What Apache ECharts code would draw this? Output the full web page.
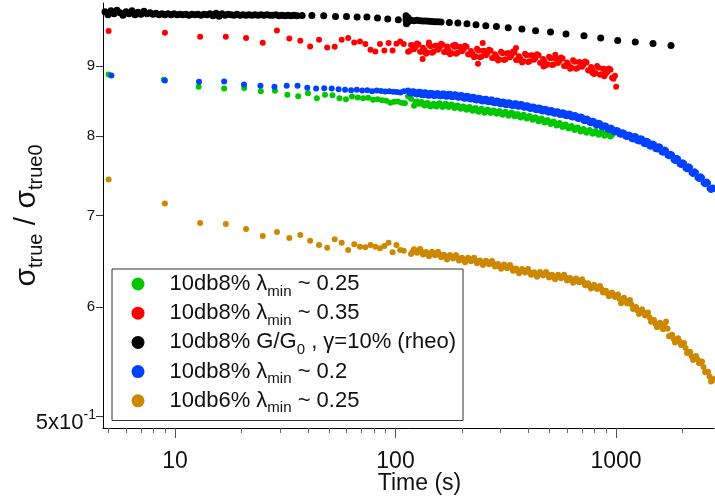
<!DOCTYPE html>
<html>
<head>
<meta charset="utf-8">
<script src="https://cdn.jsdelivr.net/npm/echarts@6/dist/echarts.min.js"></script>
<style>
html,body{margin:0;padding:0;background:#fff;}
#chart{width:715px;height:501px;}
</style>
</head>
<body>
<div id="chart"></div>
<script>
// ---------- data (time in s, value = sigma_true / sigma_true0) ----------
const X_MIN = 4.715, X_MAX = 2782;
const Y_MIN = 0.49, Y_MAX = 1.0;
const X_MAJOR = [10, 100, 1000];
const X_MINOR = [5, 6, 7, 8, 9, 20, 30, 40, 50, 60, 70, 80, 90, 200, 300, 400, 500, 600, 700, 800, 900, 2000];
const Y_TICKS = [0.5, 0.6, 0.7, 0.8, 0.9];

const seriesNames = [
  '10db8% λmin ~ 0.25',
  '10db8% λmin ~ 0.35',
  '10db8% G/G0 , γ=10% (rheo)',
  '10db8% λmin ~ 0.2',
  '10db6% λmin ~ 0.25'
];
const legendParts = [
  ['10db8% λ', 'min', ' ~ 0.25'],
  ['10db8% λ', 'min', ' ~ 0.35'],
  ['10db8% G/G', '0', ' , γ=10% (rheo)'],
  ['10db8% λ', 'min', ' ~ 0.2'],
  ['10db6% λ', 'min', ' ~ 0.25']
];
const seriesColors = ['#00c800', '#ff0000', '#000000', '#0040ff', '#cc8800'];

const greenData = [
[5.0,0.8869],[8.9,0.8791],[12.8,0.8688],[16.7,0.8663],[20.6,0.8669],[24.5,0.8625],[28.4,0.8630],[32.3,0.8572],[36.2,0.8550],[40.1,0.8593],
[44.0,0.8524],[47.9,0.8572],[51.8,0.8565],[55.7,0.8524],[59.6,0.8510],[63.5,0.8547],[67.4,0.8533],[71.3,0.8521],[75.2,0.8529],[79.1,0.8500],
[83.0,0.8507],[86.9,0.8493],[90.8,0.8486],[94.7,0.8457],[98.6,0.8472],[102.5,0.8476],[106.4,0.8457],[110.3,0.8450],
[114.0,0.8550],[117.6,0.8514],[121.3,0.8415],[125.2,0.8476],[129.2,0.8457],[133.3,0.8436],[137.5,0.8443],[141.9,0.8422],[146.4,0.8429],[151.1,0.8415],
[155.9,0.8436],[160.9,0.8422],[166.0,0.8415],[171.3,0.8429],[176.7,0.8408],[182.3,0.8415],[188.1,0.8394],[194.1,0.8401],[200.3,0.8386],[206.7,0.8379],
[213.3,0.8386],[220.1,0.8365],[227.1,0.8372],[234.3,0.8351],[241.7,0.8358],[249.4,0.8344],[257.4,0.8337],[265.6,0.8344],[274.0,0.8330],[282.7,0.8323],
[291.7,0.8330],[301.0,0.8309],[310.6,0.8316],[320.5,0.8302],[330.7,0.8295],[341.2,0.8302],[352.1,0.8281],[363.3,0.8274],[374.9,0.8274],[386.8,0.8261],
[399.1,0.8254],[411.8,0.8247],[424.9,0.8240],[438.5,0.8226],[452.4,0.8219],[466.8,0.8212],[481.7,0.8198],[497.0,0.8191],[512.8,0.8178],[529.1,0.8171],
[546.0,0.8157],[563.4,0.8150],[581.3,0.8137],[599.8,0.8130],[618.9,0.8116],[638.6,0.8109],[658.9,0.8096],[679.9,0.8089],[701.5,0.8075],[723.9,0.8068],
[746.9,0.8062],[770.7,0.8055],[795.2,0.8048],[820.5,0.8041],[846.1,0.8035],[873.0,0.8028],[900.8,0.8021],[929.5,0.8014],[959.1,0.8014]
];
const greenDense = [
[123.2,0.8468],[127.2,0.8445],[131.2,0.8469],[135.4,0.8418],[139.7,0.8455],[144.1,0.8404],[148.7,0.8444],[153.5,0.8404],[158.4,0.8451],[163.4,0.8397],
[168.6,0.8444],[174.0,0.8397],[179.5,0.8434],[185.2,0.8383],[191.1,0.8420],[197.2,0.8372],[203.5,0.8405],[210.0,0.8361],[216.7,0.8398],[223.6,0.8347],
[230.7,0.8384],[238.0,0.8333],[245.5,0.8373],[253.3,0.8319],[261.5,0.8363],[269.8,0.8315],[278.3,0.8349],[287.2,0.8305],[296.3,0.8342],[305.8,0.8291],
[315.5,0.8331],[325.6,0.8277],[335.9,0.8321],[346.6,0.8270],[357.7,0.8300],[369.0,0.8252],[380.8,0.8290],[392.9,0.8236],[405.4,0.8273],[418.3,0.8222],
[431.6,0.8255],[445.4,0.8201],[459.5,0.8238],[474.2,0.8183],[489.3,0.8217],[504.8,0.8163],[520.9,0.8197],[537.5,0.8142],[554.6,0.8176],[572.3,0.8122],
[590.5,0.8156],[609.3,0.8101],[628.7,0.8135],[648.7,0.8081],[669.3,0.8115],[690.6,0.8060],[712.6,0.8094],[735.3,0.8043],[758.7,0.8081],[782.9,0.8030],
[807.7,0.8067],[833.4,0.8016],[859.5,0.8054],[886.8,0.8003],[915.0,0.8040],[944.2,0.7992]
];

const redData = [
[5,0.9540],[9,0.9513],[13,0.9449],[17,0.9449],[21,0.9428],[25,0.9354],[29,0.9550],[33,0.9422],[37,0.9386],[41,0.9296],
[45,0.9402],[49,0.9281],[53,0.9292],[57,0.9402],[61,0.9428],[65,0.9359],[69,0.9375],[73,0.9334],[77,0.9245],[81,0.9219],
[85,0.9334],[89,0.9234],[93,0.9350],[97,0.9234],[101,0.9339],[105,0.9375],[109,0.9334],
[114.0,0.9214],[117.6,0.9318],[121.3,0.9253],[125.2,0.9342],[129.2,0.9214],[133.3,0.9276],[137.5,0.9183],[141.9,0.9323],[146.4,0.9199],[151.1,0.9307],
[155.9,0.9245],[160.9,0.9339],[166.0,0.9211],[171.3,0.9270],[176.7,0.9175],[182.3,0.9312],[188.1,0.9185],[194.1,0.9292],[200.3,0.9222],[206.7,0.9307],
[213.3,0.9174],[220.1,0.9226],[227.1,0.9128],[234.3,0.9261],[241.7,0.9129],[249.4,0.9230],[257.4,0.9162],[265.6,0.9246],[274.0,0.9119],[282.7,0.9175],
[291.7,0.9079],[301.0,0.9214],[310.6,0.9088],[320.5,0.9192],[330.7,0.9129],[341.2,0.9217],[352.1,0.9089],[363.3,0.9146],[374.9,0.9050],[386.8,0.9183],
[399.1,0.9056],[411.8,0.9159],[424.9,0.9091],[438.5,0.9175],[452.4,0.9045],[466.8,0.9102],[481.7,0.9006],[497.0,0.9139],[512.8,0.9010],[529.1,0.9109],
[546.0,0.9042],[563.4,0.9126],[581.3,0.8998],[599.8,0.9051],[618.9,0.8955],[638.6,0.9083],[658.9,0.8956],[679.9,0.9056],[701.5,0.8986],[723.9,0.9065],
[746.9,0.8932],[770.7,0.8980],[795.2,0.8877],[820.5,0.8998],[846.1,0.8865],[873.0,0.8956],[900.8,0.8883],[929.5,0.8959],[959.1,0.8820],[989.6,0.8850],
[132.7,0.9102],[141.7,0.9359],[236.7,0.9030],[248.6,0.9350],[351.9,0.9271],[469.1,0.8989],[530.5,0.9168],[783.2,0.8893],[885.0,0.8842],[1001,0.8688],
[171.7,0.9296],[186.6,0.9323]
];
const redDense = [
[115.8,0.9226],[119.5,0.9316],[123.2,0.9288],[127.2,0.9328],[131.2,0.9215],[135.4,0.9240],[139.7,0.9203],[144.1,0.9301],[148.7,0.9213],[153.5,0.9306],
[158.4,0.9282],[163.4,0.9325],[168.6,0.9211],[174.0,0.9233],[179.5,0.9194],[185.2,0.9289],[191.1,0.9199],[197.2,0.9287],[203.5,0.9255],[210.0,0.9291],
[216.7,0.9170],[223.6,0.9187],[230.7,0.9145],[238.0,0.9235],[245.5,0.9140],[253.3,0.9226],[261.5,0.9194],[269.8,0.9233],[278.3,0.9117],[287.2,0.9137],
[296.3,0.9097],[305.8,0.9191],[315.5,0.9100],[325.6,0.9191],[335.9,0.9163],[346.6,0.9203],[357.7,0.9088],[369.0,0.9108],[380.8,0.9067],[392.9,0.9160],
[405.4,0.9068],[418.3,0.9155],[431.6,0.9123],[445.4,0.9160],[459.5,0.9044],[474.2,0.9064],[489.3,0.9023],[504.8,0.9115],[520.9,0.9020],[537.5,0.9106],
[554.6,0.9074],[572.3,0.9112],[590.5,0.8995],[609.3,0.9013],[628.7,0.8969],[648.7,0.9060],[669.3,0.8966],[690.6,0.9051],[712.6,0.9016],[735.3,0.9049],
[758.7,0.8926],[782.9,0.8939],[807.7,0.8888],[833.4,0.8972],[859.5,0.8871],[886.8,0.8950],[915.0,0.8911],[944.2,0.8940],[974.2,0.8805]
];

const blackData = [
[4.815,0.9854],[4.968,0.9805],[5.126,0.9871],[5.289,0.9821],[5.458,0.9879],[5.631,0.9838],[5.810,0.9797],[5.995,0.9854],[6.186,0.9821],[6.383,0.9871],
[6.586,0.9805],[6.796,0.9846],[7.012,0.9813],[7.235,0.9863],[7.465,0.9821],[7.703,0.9838],[7.948,0.9813],[8.201,0.9830],[8.462,0.9805],[8.731,0.9821],
[9.009,0.9805],[9.296,0.9821],[9.591,0.9805],[9.897,0.9821],[10.21,0.9805],[10.54,0.9813],[10.87,0.9805],[11.22,0.9813],[11.58,0.9797],[11.94,0.9813],
[12.32,0.9805],[12.72,0.9813],[13.12,0.9797],[13.54,0.9813],[13.97,0.9805],[14.41,0.9821],[14.87,0.9788],[15.35,0.9830],[15.83,0.9780],[16.34,0.9821],
[16.86,0.9797],[17.39,0.9813],[17.95,0.9805],[18.52,0.9797],[19.11,0.9813],[19.72,0.9797],[20.34,0.9805],[20.99,0.9797],[21.66,0.9805],[22.35,0.9797],
[23.06,0.9805],[23.79,0.9797],[24.55,0.9805],[25.33,0.9797],[26.14,0.9805],[26.97,0.9797],[27.83,0.9797],[28.71,0.9805],[29.63,0.9788],[30.57,0.9797],
[31.54,0.9788],[32.55,0.9797],[33.58,0.9788],[34.65,0.9797],[35.75,0.9788],
[37.71,0.9793],[41.77,0.9793],[47.25,0.9788],[53.44,0.9777],[59.95,0.9777],[66.96,0.9767],[74.18,0.9767],[82.86,0.9750],[92.17,0.9734],[102.96,0.9723],
[111.6,0.9788],[111.6,0.9723],[112.2,0.9658],[114.0,0.9756],[114.0,0.9690],[117.6,0.9715],[121.3,0.9707],[125.2,0.9715],[129.2,0.9707],[133.3,0.9703],
[137.5,0.9702],[141.9,0.9698],[146.4,0.9695],[151.1,0.9690],[155.9,0.9690],[160.9,0.9685],
[175.4,0.9679],[191.8,0.9670],[210.9,0.9658],[231.8,0.9642],[256.7,0.9625],[286.8,0.9614],[324.4,0.9593],[374.3,0.9572],[431.8,0.9545],[504.6,0.9524],
[593.1,0.9492],[715.7,0.9465],[852.2,0.9428],[1017.8,0.9391],[1223.0,0.9366],[1471.6,0.9343],[1776.0,0.9312]
];

const blueData = [
[5.15,0.8854],[9.0,0.8780],[12.85,0.8761],[16.7,0.8765],[20.55,0.8721],[24.4,0.8702],[28.25,0.8688],[32.1,0.8702],[35.95,0.8702],[39.8,0.8673],
[43.65,0.8663],[47.5,0.8666],[51.35,0.8663],[55.2,0.8651],[59.05,0.8644],[62.9,0.8637],[66.75,0.8644],[70.6,0.8634],[74.45,0.8637],[78.3,0.8625],
[82.15,0.8634],[86.0,0.8627],[89.85,0.8620],[93.7,0.8622],[97.55,0.8615],[101.4,0.8611],[105.25,0.8605],[109.1,0.8622],
[114.0,0.8635],[117.6,0.8592],[121.3,0.8621],[125.2,0.8578],[129.2,0.8615],[133.3,0.8567],[137.5,0.8606],[141.9,0.8559],[146.4,0.8598],[151.1,0.8553],
[155.9,0.8595],[160.9,0.8550],[166.0,0.8591],[171.3,0.8544],[176.7,0.8586],[182.3,0.8539],[188.1,0.8578],[194.1,0.8530],[200.3,0.8567],[206.7,0.8517],
[213.3,0.8554],[220.1,0.8504],[227.1,0.8540],[234.3,0.8490],[241.7,0.8526],[249.4,0.8477],[257.4,0.8514],[265.6,0.8466],[274.0,0.8503],[282.7,0.8452],
[291.7,0.8487],[301.0,0.8437],[310.6,0.8474],[320.5,0.8425],[330.7,0.8460],[341.2,0.8412],[352.1,0.8450],[363.3,0.8402],[374.9,0.8437],[386.8,0.8386],
[399.1,0.8420],[411.8,0.8370],[424.9,0.8403],[438.5,0.8353],[452.4,0.8386],[466.8,0.8336],[481.7,0.8370],[497.0,0.8319],[512.8,0.8353],[529.1,0.8302],
[546.0,0.8336],[563.4,0.8286],[581.3,0.8319],[599.8,0.8269],[618.9,0.8302],[638.6,0.8251],[658.9,0.8281],[679.9,0.8230],[701.5,0.8258],[723.9,0.8201],
[746.9,0.8229],[770.7,0.8172],[795.2,0.8200],[820.5,0.8143],[846.1,0.8171],[873.0,0.8113],[900.8,0.8138],[929.5,0.8081],[959.1,0.8105],[989.6,0.8048],
[1021,0.8073],[1054,0.8016],[1087,0.8043],[1122,0.7987],[1157,0.8014],[1194,0.7953],[1232,0.7993],[1272,0.7925],[1312,0.7962],[1354,0.7890],
[1397,0.7926],[1441,0.7855],[1487,0.7890],[1535,0.7819],[1583,0.7855],[1634,0.7778],[1686,0.7807],[1739,0.7731],[1795,0.7752],[1852,0.7672],
[1911,0.7698],[1972,0.7618],[2035,0.7642],[2099,0.7564],[2166,0.7589],[2235,0.7506],[2306,0.7524],[2380,0.7442],[2455,0.7461],[2534,0.7376],
[2614,0.7393],[2697,0.7307],[2783,0.7319]
];
const blueDense = [
[115.8,0.8593],[119.5,0.8625],[123.2,0.8582],[127.2,0.8617],[131.2,0.8570],[135.4,0.8608],[139.7,0.8561],[144.1,0.8600],[148.7,0.8555],[153.5,0.8596],
[158.4,0.8551],[163.4,0.8592],[168.6,0.8546],[174.0,0.8587],[179.5,0.8540],[185.2,0.8580],[191.1,0.8532],[197.2,0.8570],[203.5,0.8520],[210.0,0.8557],
[216.7,0.8507],[223.6,0.8544],[230.7,0.8494],[238.0,0.8530],[245.5,0.8480],[253.3,0.8517],[261.5,0.8469],[269.8,0.8506],[278.3,0.8456],[287.2,0.8491],
[296.3,0.8441],[305.8,0.8477],[315.5,0.8428],[325.6,0.8464],[335.9,0.8415],[346.6,0.8453],[357.7,0.8405],[369.0,0.8440],[380.8,0.8390],[392.9,0.8424],
[405.4,0.8374],[418.3,0.8407],[431.6,0.8357],[445.4,0.8390],[459.5,0.8340],[474.2,0.8374],[489.3,0.8323],[504.8,0.8357],[520.9,0.8306],[537.5,0.8340],
[554.6,0.8290],[572.3,0.8323],[590.5,0.8273],[609.3,0.8306],[628.7,0.8255],[648.7,0.8286],[669.3,0.8235],[690.6,0.8264],[712.6,0.8208],[735.3,0.8236],
[758.7,0.8179],[782.9,0.8207],[807.7,0.8150],[833.4,0.8178],[859.5,0.8121],[886.8,0.8146],[915.0,0.8089],[944.2,0.8113],[974.2,0.8056],[1005,0.8081],
[1037,0.8024],[1071,0.8051],[1104,0.7994],[1140,0.8021],[1175,0.7962],[1213,0.7998],[1251,0.7932],[1292,0.7970],[1333,0.7899],[1375,0.7935],
[1419,0.7864],[1464,0.7899],[1510,0.7828],[1559,0.7864],[1608,0.7788],[1660,0.7819],[1713,0.7743],[1766,0.7766],[1823,0.7687],[1881,0.7712],
[1941,0.7632],[2003,0.7656],[2067,0.7578],[2132,0.7602],[2200,0.7521],[2270,0.7540],[2342,0.7458],[2418,0.7477],[2494,0.7393],[2574,0.7410],
[2655,0.7324],[2740,0.7338]
];

const orangeData = [
[5,0.7437],[9,0.7143],[13,0.6912],[17,0.6901],[21,0.6844],[25,0.6763],[29,0.6809],[33,0.6741],[37,0.6775],[41,0.6710],
[45,0.6662],[49,0.6632],[53,0.6726],[57,0.6688],[61,0.6606],[65,0.6670],[69,0.6643],[73,0.6636],[77,0.6662],[81,0.6643],
[85,0.6626],[89,0.6651],[93,0.6688],[97,0.6581],[101,0.6662],[105,0.6606],[109,0.6598],
[117.6,0.6562],[121.3,0.6614],[125.2,0.6577],[129.2,0.6617],[133.3,0.6556],[137.5,0.6585],[141.9,0.6536],[146.4,0.6586],[151.1,0.6548],[155.9,0.6587],
[160.9,0.6527],[166.0,0.6553],[171.3,0.6503],[176.7,0.6551],[182.3,0.6513],[188.1,0.6552],[194.1,0.6492],[200.3,0.6520],[206.7,0.6471],[213.3,0.6521],
[220.1,0.6483],[227.1,0.6522],[234.3,0.6462],[241.7,0.6491],[249.4,0.6441],[257.4,0.6489],[265.6,0.6449],[274.0,0.6486],[282.7,0.6426],[291.7,0.6452],
[301.0,0.6401],[310.6,0.6447],[320.5,0.6406],[330.7,0.6442],[341.2,0.6379],[352.1,0.6404],[363.3,0.6352],[374.9,0.6400],[386.8,0.6361],[399.1,0.6398],
[411.8,0.6338],[424.9,0.6365],[438.5,0.6317],[452.4,0.6367],[466.8,0.6329],[481.7,0.6368],[497.0,0.6309],[512.8,0.6337],[529.1,0.6289],[546.0,0.6338],
[563.4,0.6300],[581.3,0.6337],[599.8,0.6277],[618.9,0.6303],[638.6,0.6252],[658.9,0.6297],[679.9,0.6257],[701.5,0.6290],[723.9,0.6226],[746.9,0.6247],
[770.7,0.6193],[795.2,0.6233],[820.5,0.6188],[846.1,0.6218],[873.0,0.6152],[900.8,0.6170],[929.5,0.6114],[959.1,0.6151],[989.6,0.6105],[1021,0.6130],
[1054,0.6042],[1087,0.6098],[1122,0.6039],[1157,0.6074],[1194,0.5983],[1232,0.6003],[1272,0.5933],[1312,0.5981],[1354,0.5919],[1397,0.5948],
[1441,0.5856],[1487,0.5873],[1535,0.5802],[1583,0.5848],[1634,0.5783],[1686,0.5858],[1739,0.5716],[1795,0.5730],[1852,0.5656],[1911,0.5697],
[1972,0.5632],[2035,0.5651],[2099,0.5557],[2166,0.5568],[2235,0.5492],[2306,0.5529],[2380,0.5463],[2455,0.5478],[2534,0.5380],[2614,0.5385],
[2697,0.5298],[2783,0.5319]
];
const orangeDense = [
[119.5,0.6588],[123.2,0.6596],[127.2,0.6597],[131.2,0.6587],[135.4,0.6571],[139.7,0.6561],[144.1,0.6561],[148.7,0.6567],[153.5,0.6568],[158.4,0.6557],
[163.4,0.6540],[168.6,0.6528],[174.0,0.6527],[179.5,0.6532],[185.2,0.6533],[191.1,0.6522],[197.2,0.6506],[203.5,0.6496],[210.0,0.6496],[216.7,0.6502],
[223.6,0.6503],[230.7,0.6492],[238.0,0.6477],[245.5,0.6466],[253.3,0.6465],[261.5,0.6469],[269.8,0.6468],[278.3,0.6456],[287.2,0.6439],[296.3,0.6427],
[305.8,0.6424],[315.5,0.6427],[325.6,0.6424],[335.9,0.6411],[346.6,0.6392],[357.7,0.6378],[369.0,0.6376],[380.8,0.6381],[392.9,0.6380],[405.4,0.6368],
[418.3,0.6352],[431.6,0.6341],[445.4,0.6342],[459.5,0.6348],[474.2,0.6349],[489.3,0.6339],[504.8,0.6323],[520.9,0.6313],[537.5,0.6314],[554.6,0.6319],
[572.3,0.6319],[590.5,0.6307],[609.3,0.6290],[628.7,0.6278],[648.7,0.6275],[669.3,0.6277],[690.6,0.6274],[712.6,0.6258],[735.3,0.6237],[758.7,0.6220],
[782.9,0.6213],[807.7,0.6211],[833.4,0.6203],[859.5,0.6185],[886.8,0.6161],[915.0,0.6142],[944.2,0.6133],[974.2,0.6128],[1005,0.6118],[1037,0.6086],
[1071,0.6070],[1104,0.6069],[1140,0.6057],[1175,0.6029],[1213,0.5993],[1251,0.5968],[1292,0.5957],[1333,0.5950],[1375,0.5934],[1419,0.5902],
[1464,0.5865],[1510,0.5838],[1559,0.5825],[1608,0.5816],[1660,0.5821],[1713,0.5787],[1766,0.5723],[1823,0.5693],[1881,0.5677],[1941,0.5665],
[2003,0.5642],[2067,0.5604],[2132,0.5563],[2200,0.5530],[2270,0.5511],[2342,0.5496],[2418,0.5471],[2494,0.5429],[2574,0.5383],[2655,0.5342],
[2740,0.5309]
];

const allData = [
  greenData.concat(greenDense),
  redData.concat(redDense),
  blackData,
  blueData.concat(blueDense),
  orangeData.concat(orangeDense)
];
const symbolSizes = [6, 6, 7, 6, 6];

// ---------- chart ----------
const FONT = "'Liberation Sans', Arial, Helvetica, sans-serif";
const chart = echarts.init(document.getElementById('chart'), null, {renderer: 'canvas'});
const lg = Math.log10;
const GRID = {left: 103, right: 1, top: 3, bottom: 73, containLabel: false, outerBoundsMode: 'none'};

const option = {
  animation: false,
  backgroundColor: '#fff',
  textStyle: {fontFamily: FONT},
  grid: [Object.assign({}, GRID), Object.assign({}, GRID), Object.assign({}, GRID)],
  legend: {
    show: true,
    orient: 'vertical',
    left: 112, top: 269,
    padding: [0, 7, 4.7, 19.5],
    itemGap: -0.8,
    itemWidth: 13, itemHeight: 13,
    icon: 'circle',
    selectedMode: false,
    borderColor: '#333', borderWidth: 1,
    data: seriesNames,
    formatter: function (name) {
      const p = legendParts[seriesNames.indexOf(name)];
      return '{t|' + p[0] + '}{s|' + p[1] + '}{t|' + p[2] + '}';
    },
    textStyle: {
      color: '#111', fontFamily: FONT, fontSize: 22,
      padding: [0, 0, 0, 20],
      rich: {
        t: {fontSize: 22, lineHeight: 22, fontFamily: FONT, color: '#111'},
        s: {fontSize: 15, lineHeight: 7, padding: [15, 0, 0, 0], fontFamily: FONT, color: '#111'}
      }
    }
  },
  xAxis: [
    {
      gridIndex: 0, type: 'log', min: X_MIN, max: X_MAX, position: 'bottom',
      axisLine: {show: true, onZero: false, lineStyle: {color: '#000', width: 1}},
      axisTick: {show: false}, axisLabel: {show: false},
      splitLine: {show: false}, minorTick: {show: false}
    },
    {
      gridIndex: 1, type: 'value', min: lg(X_MIN), max: lg(X_MAX), position: 'bottom',
      axisLine: {show: false, onZero: false},
      axisTick: {show: true, customValues: X_MAJOR.map(lg), length: 10, lineStyle: {color: '#555', width: 1}},
      axisLabel: {
        show: true, customValues: X_MAJOR.map(lg), margin: 22,
        fontSize: 23, color: '#111', fontFamily: FONT,
        formatter: function (v) { return String(Math.round(Math.pow(10, v))); }
      },
      splitLine: {show: false},
      name: 'Time (s)', nameLocation: 'middle', nameGap: 44, nameMoveOverlap: false,
      nameTextStyle: {fontSize: 23, color: '#111', fontFamily: FONT, padding: [0, 0, 0, 22]}
    },
    {
      gridIndex: 2, type: 'value', min: lg(X_MIN), max: lg(X_MAX), position: 'bottom',
      axisLine: {show: false, onZero: false},
      axisTick: {show: true, customValues: X_MINOR.map(lg), length: 5, lineStyle: {color: '#666', width: 1}},
      axisLabel: {show: false},
      splitLine: {show: false}
    }
  ],
  yAxis: [
    {
      gridIndex: 0, type: 'log', min: Y_MIN, max: Y_MAX, position: 'left',
      axisLine: {show: true, onZero: false, lineStyle: {color: '#000', width: 1}},
      axisTick: {show: false}, axisLabel: {show: false},
      splitLine: {show: false}, minorTick: {show: false}
    },
    {
      gridIndex: 1, type: 'value', min: lg(Y_MIN), max: lg(Y_MAX), position: 'left',
      axisLine: {show: false, onZero: false},
      axisTick: {show: true, customValues: Y_TICKS.map(lg), length: 7, lineStyle: {color: '#333', width: 1}},
      axisLabel: {
        show: true, customValues: Y_TICKS.map(lg), margin: 7,
        color: '#111', fontFamily: FONT,
        formatter: function (v) {
          const k = Math.round(Math.pow(10, v) * 10);
          if (k === 5) return '{b|5x10}{p|-1}';
          return '{m|' + k + '}';
        },
        rich: {
          m: {fontSize: 15, fontFamily: FONT, color: '#111', padding: [0, 1, 0, 0]},
          b: {fontSize: 22, lineHeight: 22, fontFamily: FONT, color: '#111', padding: [13, 0, 0, 0]},
          p: {fontSize: 14, lineHeight: 14, fontFamily: FONT, color: '#111', verticalAlign: 'top', padding: [3.5, 0, 0, 0]}
        }
      },
      splitLine: {show: false}
    },
    {
      gridIndex: 2, type: 'value', min: lg(Y_MIN), max: lg(Y_MAX), position: 'left',
      axisLine: {show: false, onZero: false}, axisTick: {show: false}, axisLabel: {show: false},
      splitLine: {show: false},
      name: '{s|σ}{u|true}{s| / σ}{u|true0}',
      nameLocation: 'middle', nameRotate: 90, nameGap: 61.5, nameMoveOverlap: false,
      nameTextStyle: {
        color: '#111', fontFamily: FONT,
        rich: {
          s: {fontSize: 30, lineHeight: 30, fontFamily: FONT, color: '#111'},
          u: {fontSize: 20, lineHeight: 11, padding: [19, 0, 0, 0], fontFamily: FONT, color: '#111'}
        }
      }
    }
  ],
  series: seriesNames.map(function (name, i) {
    return {
      type: 'scatter', name: name,
      xAxisIndex: 0, yAxisIndex: 0,
      data: allData[i],
      symbol: 'circle', symbolSize: symbolSizes[i],
      itemStyle: {color: seriesColors[i], opacity: 1},
      silent: true
    };
  })
};
chart.setOption(option);
</script>
</body>
</html>
